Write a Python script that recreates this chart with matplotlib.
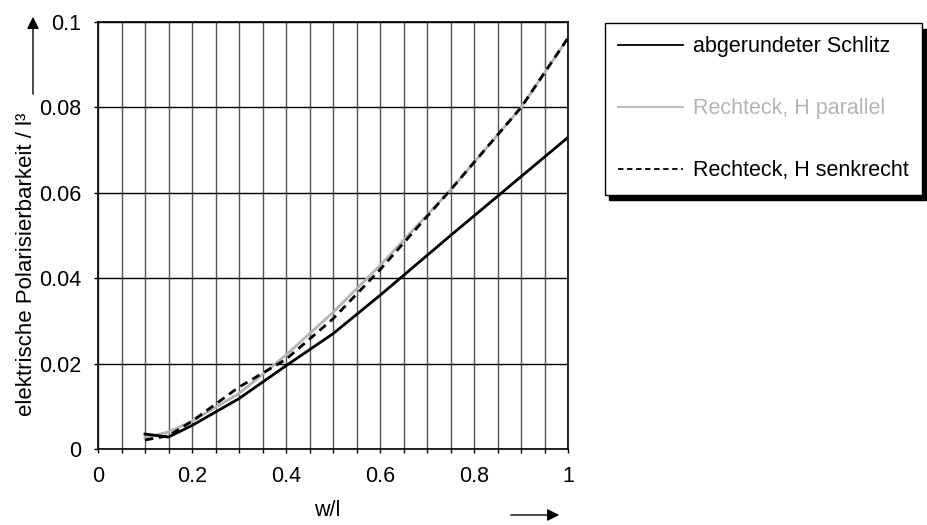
import matplotlib.pyplot as plt

plt.rcParams['font.family'] = ['Liberation Sans', 'DejaVu Sans']
plt.rcParams['font.size'] = 15.5

# w/l values and polarisability / l^3
x_schlitz = [0.1, 0.15, 0.2, 0.3, 0.4, 0.5, 0.6, 0.75, 1.0]
y_schlitz = [0.0035, 0.0028, 0.0055, 0.0118, 0.0195, 0.027, 0.036, 0.050, 0.073]

x_rechteck = [0.1, 0.15, 0.2, 0.3, 0.4, 0.5, 0.6, 0.75, 0.9, 1.0]
y_parallel = [0.0026, 0.004, 0.0065, 0.013, 0.022, 0.032, 0.043, 0.0607, 0.080, 0.0963]
y_senkrecht = [0.0021, 0.0031, 0.0065, 0.0145, 0.021, 0.0305, 0.042, 0.0607, 0.080, 0.0963]

labels = ['abgerundeter Schlitz', 'Rechteck, H parallel', 'Rechteck, H senkrecht']

fig = plt.figure(figsize=(9.28, 5.25), dpi=100)
ax = fig.add_axes([0.1056, 0.1448, 0.5066, 0.8133])

ax.plot(x_rechteck, y_parallel, color='#b4b4b4', lw=2, label=labels[1])
ax.plot(x_rechteck, y_senkrecht, color='black', lw=2, ls=(0, (3, 2)), label=labels[2])
ax.plot(x_schlitz, y_schlitz, color='black', lw=2, label=labels[0])

ax.set_xlim(0, 1)
ax.set_ylim(0, 0.1)
ax.set_xticks([i * 0.05 for i in range(21)])
ax.set_xticklabels(['0' if i == 0 else ('1' if i == 20 else ('%g' % (i * 0.05) if i % 4 == 0 else '')) for i in range(21)])
ax.set_yticks([0, 0.02, 0.04, 0.06, 0.08, 0.1])
ax.set_yticklabels(['0', '0.02', '0.04', '0.06', '0.08', '0.1'])
ax.grid(axis='x', color='#555555', lw=1)
ax.grid(axis='y', color='black', lw=1)
ax.set_axisbelow(True)
ax.tick_params(direction='out', length=3, width=1, pad=9)
for s in ax.spines.values():
    s.set_linewidth(1.2)

# axis titles with arrows
fig.text(327 / 928, 1 - 511 / 525, 'w/l', ha='center', va='center')
fig.text(27 / 928, 1 - 264 / 525, 'elektrische Polarisierbarkeit / l³',
         rotation=90, ha='center', va='center', fontsize=16)
fig.add_artist(plt.Annotation('', xy=(562 / 928, 1 - 515 / 525), xytext=(508 / 928, 1 - 515 / 525),
                              xycoords='figure fraction',
                              arrowprops=dict(arrowstyle='-|>', color='black', lw=1,
                                              mutation_scale=18)))
fig.add_artist(plt.Annotation('', xy=(33 / 928, 1 - 14 / 525), xytext=(33 / 928, 1 - 97 / 525),
                              xycoords='figure fraction',
                              arrowprops=dict(arrowstyle='-|>', color='black', lw=1,
                                              mutation_scale=18)))

h, l = ax.get_legend_handles_labels()
order = [2, 0, 1]
leg = fig.legend([h[i] for i in order], [l[i] for i in order],
                 loc='upper left', bbox_to_anchor=(605 / 928, 1 - 23 / 525),
                 frameon=True, fancybox=False, edgecolor='black',
                 shadow={'color': 'black', 'alpha': 1, 'ox': 3, 'oy': -4},
                 handlelength=3.0, handletextpad=0.45, labelspacing=1.9,
                 borderpad=0.62, borderaxespad=0)
leg.get_frame().set_linewidth(1)
for line in leg.get_lines():
    line.set_linewidth(1.3)
leg.get_texts()[1].set_color('#b4b4b4')

fig.savefig('out.png', dpi=100)
